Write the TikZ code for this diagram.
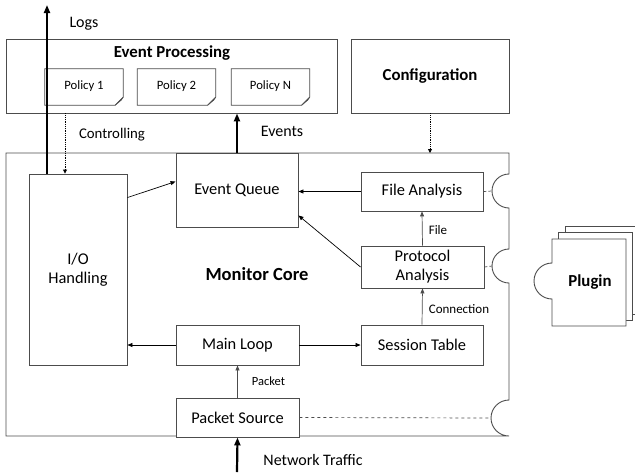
\documentclass[tikz,border=0pt]{standalone}
\usepackage{fontspec}
\setmainfont{Carlito}
\usetikzlibrary{arrows.meta}
\definecolor{edge}{gray}{0.3}
\tikzset{
  box/.style={draw=edge, line width=0.9pt, fill=white, align=center, font=\fontsize{16.4}{19}\selectfont, inner sep=0pt},
  thin arrow/.style={-{Triangle[length=5pt,width=4pt]}, line width=0.7pt},
  thick arrow/.style={-{Triangle[length=8pt,width=6pt]}, line width=2.2pt},
  small label/.style={font=\fontsize{13}{15}\selectfont},
  mid label/.style={font=\fontsize{16}{18}\selectfont},
  title/.style={font=\bfseries\fontsize{16.8}{19}\selectfont},
  policy/.style={font=\fontsize{12.7}{15}\selectfont},
}
\begin{document}
\begin{tikzpicture}[x=1pt,y=-1pt]
\useasboundingbox (0,0) rectangle (635,472);
% Event Processing
\node[box, minimum width=331, minimum height=74] (ep) at (171.5,76) {};
\node[title] (eptitle) at (172,53) {Event Processing};
\foreach \n/\x/\t in {p1/84/Policy 1, p2/176.5/Policy 2, pn/270.5/Policy N}{
  \node[minimum width=78, minimum height=36, inner sep=0pt] (\n) at (\x,87) {};
  \draw[edge, line width=0.8pt, fill=white] (\n.north west) -- (\n.north east) -- ([yshift=8]\n.south east) -- ([xshift=-8]\n.south east) -- (\n.south west) -- cycle;
  \draw[edge, line width=0.6pt, fill=gray!55] ([yshift=8]\n.south east) -- ([xshift=-8]\n.south east) -- ([xshift=-2,yshift=5]\n.south east) -- cycle;
  \node[policy] at ([yshift=1]\n) {\t};
}
% Configuration
\node[box, minimum width=158, minimum height=74, title] (conf) at (430,76) {Configuration};
% Monitor core outline
\draw[edge, line width=0.9pt]
  (6,153) -- (509,153) -- (509,174)
  arc[start angle=-90, end angle=-270, radius=17] -- (509,249)
  arc[start angle=-90, end angle=-270, radius=17] -- (509,400)
  arc[start angle=-90, end angle=-270, radius=18] -- (6,436) -- cycle;
\coordinate (notchA) at (492,191);
\coordinate (notchB) at (492,266);
\coordinate (notchC) at (491,418);
\node[font=\bfseries\fontsize{18.5}{21}\selectfont] (mc) at (257,274) {Monitor Core};
% inner boxes
\node[box, minimum width=98, minimum height=191] (io) at (78,269.5) {I/O\\Handling};
\node[box, minimum width=122, minimum height=74] (eq) at (237,190) {Event Queue};
\node[box, minimum width=122, minimum height=39] (fa) at (422,191.5) {File Analysis};
\node[box, minimum width=123, minimum height=42] (pa) at (422.5,267) {Protocol\\Analysis};
\node[box, minimum width=122, minimum height=40] (st) at (422,345) {Session Table};
\node[box, minimum width=123, minimum height=40] (ml) at (237.5,345) {Main Loop};
\node[box, minimum width=123, minimum height=39] (ps) at (237.5,417.5) {Packet Source};
% connectors inside
\draw[thin arrow] ([yshift=-24]io.north east) -- ([yshift=-29]eq.north west);
\draw[thin arrow] (fa.west) -- (fa.west -| eq.east);
\draw[thin arrow] (pa.west) -- ([yshift=12]eq.south east);
\draw[thin arrow, edge] (pa.north) -- (fa.south);
\draw[thin arrow, edge] (st.north) -- (pa.south);
\draw[thin arrow] (ml.east) -- (st.west);
\draw[thin arrow] (ml.west) -- (ml.west -| io.east);
\draw[thin arrow, edge] (ps.north) -- (ml.south);
\node[small label] (lfile) at (438,230) {File};
\node[small label] (lconn) at (459,309) {Connection};
\node[font=\fontsize{12.5}{14}\selectfont] (lpack) at (268.5,381) {Packet};
% dashed plugin links
\draw[edge, dashed, line width=0.7pt] (ps.east) -- (notchC);
\draw[edge, dash pattern=on 3pt off 2pt, line width=0.7pt] (fa.east) -- (notchA);
\draw[edge, dash pattern=on 3pt off 2pt, line width=0.7pt] (pa.east) -- (notchB);
% external arrows
\coordinate (logtop) at (47,5);
\draw[thick arrow] (io.north -| logtop) -- (logtop);
\node[mid label] (llogs) at (84,24) {Logs};
\draw[densely dotted, line width=0.8pt, -{Triangle[length=4pt,width=4pt]}] (ep.south -| 65,0) -- (io.north -| 65,0);
\node[font=\fontsize{14.8}{17}\selectfont] (lctrl) at (112,135) {Controlling};
\draw[thick arrow] (eq.north) -- (eq.north |- ep.south);
\node[mid label] (levents) at (282,131) {Events};
\draw[densely dotted, line width=0.8pt, -{Triangle[length=4pt,width=4pt]}] (conf.south) -- (conf.south |- 0,153);
\coordinate (nettraffic) at (237,472);
\draw[thick arrow] (nettraffic) -- (ps.south);
\node[mid label] (lnet) at (313,460) {Network Traffic};
% Plugin stack
\draw[edge, line width=0.9pt, fill=white] (565,226) rectangle (642,314);
\draw[edge, line width=0.9pt, fill=white] (558,232) rectangle (632,320);
\draw[edge, line width=0.9pt, fill=white] (552,239) -- (626,239) -- (626,326) -- (552,326) -- (552,299)
  arc[start angle=90, end angle=270, radius=18] -- cycle;
\node[title] (plugin) at (590,282) {Plugin};
\end{tikzpicture}
\end{document}
